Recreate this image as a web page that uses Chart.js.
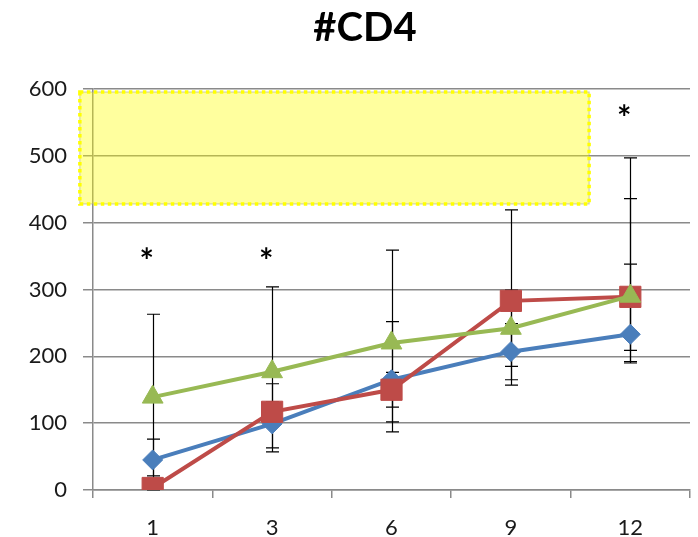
<!DOCTYPE html>
<html>
<head>
<meta charset="utf-8">
<style>
  html, body { margin: 0; padding: 0; background: #ffffff; }
  #wrap { width: 698px; height: 537px; }
</style>
<script src="https://cdn.jsdelivr.net/npm/chart.js@4/dist/chart.umd.min.js"></script>
</head>
<body>
<div id="wrap"><canvas id="c" width="698" height="537"></canvas></div>
<script>
// Months after start
const categories = ['1', '3', '6', '9', '12'];

// Mean #CD4 per group
const blueValues  = [45, 99, 165, 207, 233];
const redValues   = [3, 117, 150, 283, 289];
const greenValues = [139, 177, 220, 242, 290];

// Error bar extents (above / below the mean)
const bluePlus   = [31, 60, 87, 42, 105];
const blueMinus  = [31, 36, 63, 42, 24];
const redPlus    = [3, 15, 26, 136, 208];
const redMinus   = [3, 15, 26, 126, 97];
const greenPlus  = [124, 127, 139, 57, 146];
const greenMinus = [118, 120, 133, 57, 100];

// Significance marks: category and height on the value axis
const starCategories = ['1', '3', '12'];
const starValues = [355, 355, 569];

// Y axis ticks
const yTicks = [0, 100, 200, 300, 400, 500, 600];

// Highlight band (category index range, value range)
const bandX = [-0.61, 3.655];
const bandY = [428, 595.5];

const FONT = 'Lato, "Open Sans", "Liberation Sans", sans-serif';

const errorBarPlugin = {
  id: 'errorBars',
  beforeDatasetsDraw(chart) {
    const ctx = chart.ctx;
    const y = chart.scales.y;
    ctx.save();
    ctx.strokeStyle = '#000000';
    ctx.lineWidth = 1.2;
    chart.data.datasets.forEach((ds, di) => {
      const meta = chart.getDatasetMeta(di);
      ds.data.forEach((v, i) => {
        const px = Math.round(meta.data[i].x) + 0.5;
        const top = y.getPixelForValue(v + ds.errPlus[i]);
        const bot = y.getPixelForValue(v - ds.errMinus[i]);
        ctx.beginPath();
        ctx.moveTo(px, top);
        ctx.lineTo(px, bot);
        ctx.moveTo(px - 6.5, top);
        ctx.lineTo(px + 6.5, top);
        ctx.moveTo(px - 6.5, bot);
        ctx.lineTo(px + 6.5, bot);
        ctx.stroke();
      });
    });
    ctx.restore();
  }
};

const bandPlugin = {
  id: 'band',
  afterDatasetsDraw(chart) {
    const ctx = chart.ctx;
    const x = chart.scales.x, y = chart.scales.y;
    const l = x.getPixelForValue(bandX[0]);
    const r = x.getPixelForValue(bandX[1]);
    const t = y.getPixelForValue(bandY[1]);
    const b = y.getPixelForValue(bandY[0]);
    ctx.save();
    ctx.fillStyle = 'rgba(255, 255, 0, 0.38)';
    ctx.fillRect(l, t, r - l, b - t);
    ctx.strokeStyle = 'rgba(160, 160, 160, 0.6)';
    ctx.lineWidth = 1;
    ctx.strokeRect(l, t, r - l, b - t);
    ctx.strokeStyle = '#ffff00';
    ctx.lineWidth = 3.5;
    ctx.setLineDash([3.5, 3.5]);
    ctx.strokeRect(l, t, r - l, b - t);
    ctx.restore();
  }
};

const starPlugin = {
  id: 'stars',
  afterDraw(chart) {
    const ctx = chart.ctx;
    const x = chart.scales.x, y = chart.scales.y;
    ctx.save();
    ctx.fillStyle = '#000000';
    ctx.font = 'bold 34px ' + FONT;
    ctx.textAlign = 'center';
    ctx.textBaseline = 'alphabetic';
    const m = ctx.measureText('*');
    const mid = (m.actualBoundingBoxAscent - m.actualBoundingBoxDescent) / 2;
    starCategories.forEach((c, i) => {
      const px = x.getPixelForValue(categories.indexOf(c)) - 6;
      const py = y.getPixelForValue(starValues[i]);
      ctx.fillText('*', px, py + mid);
    });
    ctx.restore();
  }
};

// Centre the title over the plot rather than the whole canvas
const titleShift = {
  id: 'titleShift',
  afterLayout(chart) {
    if (chart.titleBlock) chart.titleBlock.left = 40;
  }
};

function series(label, values, plus, minus, color, style, radius, order) {
  return {
    label,
    data: values,
    errPlus: plus,
    errMinus: minus,
    borderColor: color,
    backgroundColor: color,
    pointBackgroundColor: color,
    pointBorderColor: color,
    pointBorderWidth: 1,
    borderWidth: 4,
    pointStyle: style,
    pointRadius: radius,
    pointHoverRadius: radius,
    tension: 0,
    order
  };
}

new Chart(document.getElementById('c'), {
  type: 'line',
  data: {
    labels: categories,
    datasets: [
      series('A', blueValues, bluePlus, blueMinus, '#4a7ebb', 'rectRot', 10, 2),
      series('B', redValues, redPlus, redMinus, '#be4b48', 'rect', 15, 1),
      series('C', greenValues, greenPlus, greenMinus, '#98b954', 'triangle', 12, 0)
    ]
  },
  options: {
    responsive: false,
    animation: false,
    events: [],
    layout: { autoPadding: false, padding: { left: 28, right: 8, top: 0, bottom: 0 } },
    plugins: {
      legend: { display: false },
      tooltip: { enabled: false },
      title: {
        display: true,
        text: '#CD4',
        color: '#000000',
        font: { family: FONT, size: 40, weight: 'bold' },
        padding: { top: 4, bottom: 37 }
      }
    },
    scales: {
      x: {
        offset: true,
        grid: {
          offset: true,
          drawOnChartArea: false,
          tickLength: 8,
          color: '#8a8a8a',
          lineWidth: 1.5
        },
        border: { display: true, color: '#8a8a8a', width: 1.5 },
        ticks: {
          color: '#1a1a1a',
          font: { family: FONT, size: 22 },
          padding: 17,
          maxRotation: 0
        },
        afterFit(scale) {
          scale.height = 47;
          scale.paddingLeft = 0;
          scale.paddingRight = 0;
        }
      },
      y: {
        min: 0,
        max: 600,
        afterBuildTicks(scale) { scale.ticks = yTicks.map(v => ({ value: v })); },
        grid: {
          color: '#8a8a8a',
          lineWidth: 1.5,
          tickLength: 10
        },
        border: { display: true, color: '#8a8a8a', width: 1.5 },
        ticks: {
          color: '#1a1a1a',
          font: { family: FONT, size: 22 },
          padding: 16
        },
        afterFit(scale) { scale.width = 65; }
      }
    }
  },
  plugins: [titleShift, errorBarPlugin, bandPlugin, starPlugin]
});
</script>
</body>
</html>
